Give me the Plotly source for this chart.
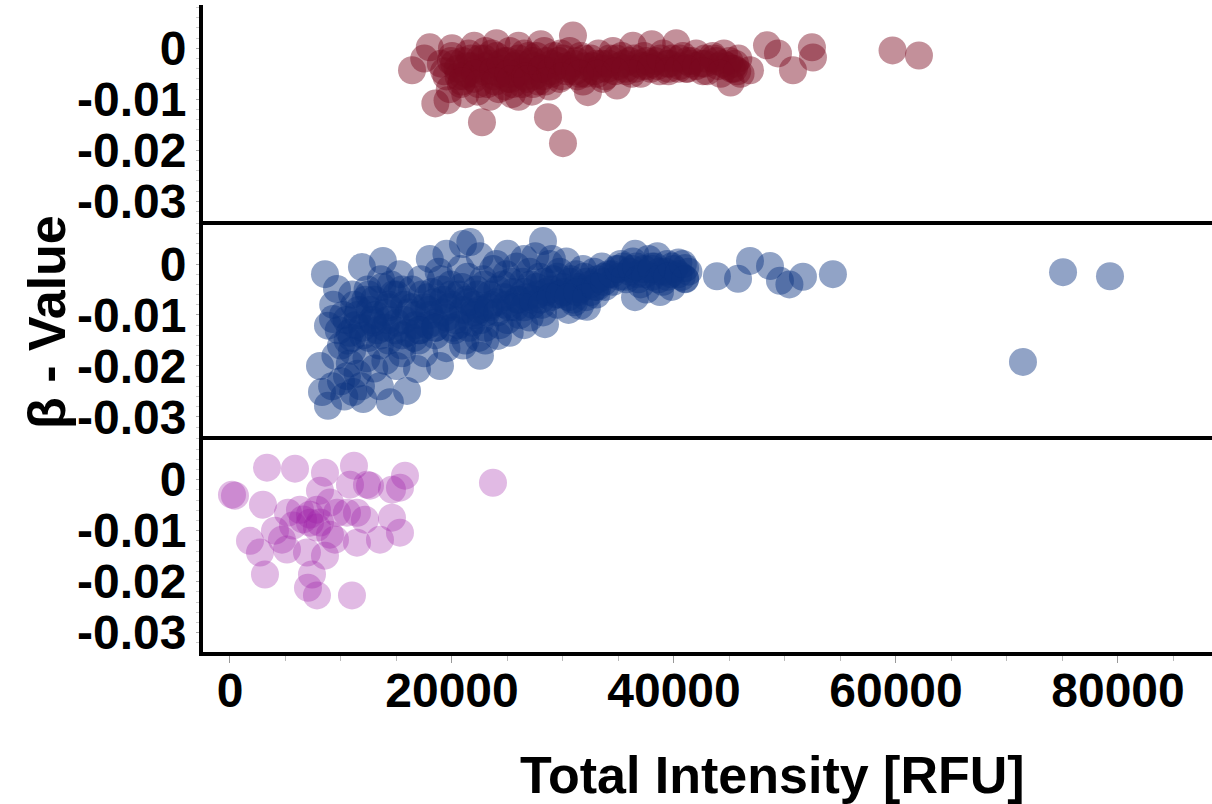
import plotly.graph_objects as go
from plotly.subplots import make_subplots

# ---------------- data ----------------
red_x = [16400, 18000, 18500, 19600, 19000, 19500, 20000, 20500, 20800, 21000,
         21300, 21500, 21800, 22000, 22300, 22500, 22700, 22800, 23000, 23200,
         23500, 23800, 24000, 24200, 24500, 24700, 25000, 25200, 25400, 25600,
         25800, 26000, 26300, 26500, 26700, 27000, 27200, 27400, 27600, 27800,
         28000, 28300, 28500, 28650, 28800, 29000, 29200, 29500, 29700, 30000,
         30000, 30300, 30600, 30900, 31000, 31300, 31600, 32000, 32250, 32500,
         32800, 33200, 33500, 33800, 34200, 34500, 34870, 35000, 35300, 35700,
         36000, 36300, 36700, 37000, 37300, 37700, 38000, 38300, 38700, 39000,
         39400, 39800, 40200, 40500, 40800, 41200, 41600, 42000, 42500, 43000,
         43500, 44000, 44500, 45000, 45100, 45400, 45800, 46000, 46850, 48380,
         49370, 50720, 52430, 52520, 59690, 62070,
         20200, 21000, 21700, 22200, 23000, 23600, 24300, 25000, 25500, 26200,
         26900, 27500, 28200, 29000, 29800, 30500, 31200, 32000, 33000, 34000,
         35500, 36500, 37500, 38500, 39500, 40500, 41500, 42800, 43800, 44800,
         45500, 19800, 21200, 23400, 24800, 26000, 27300, 31800, 33600, 22000,
         24000, 26000, 28000, 20000, 17500,
         19300, 19900, 20600, 21400, 22100, 22900, 23700, 24400, 25100, 25900,
         26600, 27300, 28100, 28900, 29600, 30400, 31100, 31900, 32700, 33400,
         34100, 34800, 35600, 36400, 37200, 38000, 38800, 39600, 40400, 41200,
         42000, 42800, 43600, 44400, 45200,
         20900, 22400, 23900, 25300, 26800, 28400, 29900, 31500, 33100, 34700,
         36200, 37900, 39500, 41100, 42600, 44200, 45700]
red_y = [-0.0043, 0.0002, -0.0108, -0.0102, -0.0030, -0.0055, -0.0015, -0.0040, -0.0070, -0.0025,
         -0.0050, -0.0010, -0.0035, -0.0060, -0.0085, -0.0020, -0.0145, -0.0045, -0.0005, -0.0070,
         -0.0030, -0.0055, -0.0015, -0.0080, -0.0040, -0.0025, -0.0060, -0.0005, -0.0090, -0.0035,
         -0.0050, -0.0020, -0.0070, -0.0010, -0.0045, -0.0030, -0.0085, -0.0055, -0.0015, -0.0065,
         -0.0040, -0.0005, -0.0025, -0.0135, -0.0075, -0.0050, -0.0015, -0.0035, -0.0060, -0.0186,
         -0.0020, -0.0045, -0.0005, 0.0025, -0.0030, -0.0055, -0.0015, -0.0035, -0.0086, -0.0020,
         -0.0045, -0.0010, -0.0030, -0.0055, -0.0020, -0.0005, -0.0073, -0.0035, -0.0015, -0.0045,
         -0.0025, 0.0005, -0.0030, -0.0050, -0.0015, -0.0035, 0.0008, -0.0025, -0.0045, -0.0010,
         -0.0030, -0.0020, 0.0010, -0.0035, -0.0015, -0.0040, -0.0025, -0.0010, -0.0030, -0.0045,
         -0.0015, -0.0035, -0.0010, -0.0025, -0.0067, -0.0040, -0.0020, -0.0050, -0.0043, 0.0006,
         -0.0010, -0.0043, 0.0002, -0.0018, -0.0004, -0.0014,
         -0.0030, -0.0055, -0.0020, -0.0040, -0.0035, -0.0010, -0.0050, -0.0025, -0.0070, -0.0045,
         -0.0015, -0.0035, -0.0055, -0.0030, -0.0010, -0.0040, -0.0025, -0.0050, -0.0030, -0.0040,
         -0.0030, -0.0040, -0.0025, -0.0035, -0.0040, -0.0020, -0.0030, -0.0020, -0.0025, -0.0035,
         -0.0030, -0.0080, -0.0090, -0.0095, -0.0075, -0.0095, -0.0070, -0.0065, -0.0060, 0.0005,
         0.0010, 0.0005, 0.0008, 0.0000, -0.0020,
         -0.0045, -0.0025, -0.0055, -0.0035, -0.0050, -0.0020, -0.0045, -0.0030, -0.0050, -0.0030,
         -0.0055, -0.0025, -0.0040, -0.0045, -0.0025, -0.0035, -0.0045, -0.0020, -0.0035, -0.0040,
         -0.0030, -0.0020, -0.0040, -0.0020, -0.0035, -0.0030, -0.0020, -0.0030, -0.0040, -0.0025,
         -0.0035, -0.0030, -0.0020, -0.0030, -0.0040,
         -0.0065, -0.0070, -0.0065, -0.0060, -0.0060, -0.0065, -0.0055, -0.0050, -0.0050, -0.0045,
         -0.0050, -0.0040, -0.0045, -0.0040, -0.0045, -0.0050, -0.0045]

blue_x = [8560, 13780, 11890, 9640, 9280, 8830, 8110, 8290, 8830, 10540,
          11100, 14410, 15950, 13500, 12000, 16850, 18920, 22520, 24140, 20990,
          21650, 28200, 31530, 32160, 28380, 36490, 38740, 41000, 43870, 45770,
          46850, 48650, 49550, 50400, 51620, 54320, 75050, 79280, 71440,
          9500, 10000, 10800, 11500, 12300, 9200, 10300, 11800, 13000, 14000,
          15000, 15500, 17500, 19500, 21000, 23000, 25200, 26500,
          9300, 9800, 10200, 10600, 11000, 11300, 11600, 12000, 10000, 11000,
          12400, 12800,
          13000, 13300, 13600, 14000, 14300, 14700, 15000, 15300, 15700, 16000,
          16400, 16800, 13500, 15500, 14500, 16600, 12600, 14200,
          17200, 17500, 17800, 18200, 18500, 18800, 19200, 19500, 19900, 20200,
          20600, 21000, 21400, 21800, 22200, 22400, 17000, 18000, 19000, 20000,
          21200, 22000, 20800, 18400,
          22800, 23100, 23400, 23700, 24000, 24300, 24600, 24900, 25200, 25500,
          25800, 26100, 26400, 26700, 27000, 27300, 27600, 27900, 28200, 28500,
          28800, 23000, 25000, 27000, 24000, 26000, 28000, 22600,
          29100, 29400, 29700, 30000, 30300, 30600, 30900, 31200, 31500, 31800,
          32100, 32500, 32800, 33100, 33500, 33800, 34100, 34500, 34800, 35100,
          29500, 30500, 31000, 33000,
          35400, 35700, 36000, 36300, 36700, 37000, 37300, 37700, 38000, 38300,
          38700, 39000, 39400, 39700, 40000, 40400, 40700, 41000, 41300, 37500,
          39800, 36500, 38500,
          10500, 11200, 11900, 12500, 13100, 13700, 14300, 14900, 15500, 16100,
          16700, 17300, 17900, 18500, 19100, 19700, 20300, 20900, 21500, 22100,
          10800, 11500, 12200, 12900, 13600, 14300, 15000, 15700, 16400, 17100,
          17800, 18500, 19200, 19900, 20600, 21300, 22000,
          11000, 12500, 14000, 15500, 17000, 18500, 20000, 21500,
          22300, 22900, 23500, 24100, 24700, 25300, 25900, 26500, 27100, 27700,
          28300, 28900, 29500, 30100, 30700, 31300, 31900, 32500, 33100, 33700,
          22500, 23300, 24100, 24900, 25700, 26500, 27300, 28100, 28900, 29700,
          30500, 31300, 32100, 32900, 33700,
          34400, 35000, 35600, 36200, 36800, 37400, 38000, 38600, 39200, 39800,
          40400, 41000, 35200, 36600, 38000, 39400, 40800,
          18000, 19500, 22500, 25000, 26500, 27500, 29000]
blue_y = [-0.0020, 0.0006, -0.0006, -0.0049, -0.0108, -0.0121, -0.0200, -0.0251, -0.0278, -0.0220,
          -0.0251, -0.0271, -0.0249, -0.0240, -0.0265, -0.0206, -0.0200, -0.0180, -0.0141, 0.0039,
          0.0043, 0.0045, -0.0082, -0.0084, -0.0118, -0.0065, -0.0055, -0.0029, -0.0024, -0.0029,
          0.0006, -0.0004, -0.0033, -0.0040, -0.0025, -0.0020, -0.0016, -0.0024, -0.0192,
          -0.0180, -0.0230, -0.0195, -0.0215, -0.0185, -0.0240, -0.0260, -0.0240, -0.0205, -0.0190,
          -0.0200, -0.0175, -0.0175, -0.0165, -0.0160, -0.0150, -0.0135, -0.0120,
          -0.0080, -0.0130, -0.0100, -0.0150, -0.0060, -0.0120, -0.0090, -0.0140, -0.0160, -0.0170,
          -0.0050, -0.0110,
          -0.0070, -0.0130, -0.0030, -0.0095, -0.0150, -0.0060, -0.0115, -0.0020, -0.0080, -0.0135,
          -0.0050, -0.0100, -0.0160, -0.0160, -0.0040, -0.0145, -0.0090, -0.0110,
          -0.0030, -0.0085, -0.0120, -0.0055, -0.0140, -0.0015, -0.0070, -0.0105, -0.0040, -0.0130,
          -0.0060, -0.0090, -0.0025, -0.0115, -0.0050, -0.0145, -0.0150, -0.0100, -0.0030, -0.0080,
          -0.0150, -0.0080, -0.0010, -0.0075,
          -0.0030, -0.0095, -0.0060, -0.0010, -0.0075, -0.0120, -0.0040, -0.0020, -0.0085, -0.0055,
          -0.0005, -0.0100, -0.0035, -0.0065, -0.0015, -0.0080, -0.0045, -0.0025, -0.0095, -0.0055,
          0.0000, -0.0125, -0.0110, -0.0105, 0.0000, -0.0070, -0.0070, -0.0110,
          -0.0030, -0.0060, -0.0015, -0.0045, 0.0005, -0.0035, -0.0070, -0.0020, -0.0050, -0.0010,
          -0.0035, -0.0055, -0.0015, -0.0030, -0.0005, -0.0045, -0.0020, -0.0035, -0.0010, -0.0025,
          -0.0080, -0.0090, -0.0075, -0.0060,
          -0.0005, -0.0030, -0.0015, 0.0005, -0.0020, -0.0040, -0.0010, 0.0010, -0.0025, -0.0005,
          -0.0015, -0.0035, 0.0000, -0.0020, -0.0010, 0.0003, -0.0025, -0.0008, -0.0015, -0.0050,
          -0.0045, 0.0020, 0.0015,
          -0.0110, -0.0080, -0.0125, -0.0060, -0.0100, -0.0045, -0.0085, -0.0130, -0.0050, -0.0095,
          -0.0120, -0.0060, -0.0090, -0.0115, -0.0050, -0.0085, -0.0110, -0.0045, -0.0075, -0.0100,
          -0.0135, -0.0100, -0.0070, -0.0115, -0.0140, -0.0080, -0.0060, -0.0110, -0.0085, -0.0130,
          -0.0065, -0.0125, -0.0095, -0.0060, -0.0120, -0.0070, -0.0095,
          -0.0145, -0.0145, -0.0125, -0.0140, -0.0130, -0.0125, -0.0125, -0.0125,
          -0.0060, -0.0040, -0.0080, -0.0050, -0.0065, -0.0035, -0.0070, -0.0055, -0.0040, -0.0060,
          -0.0035, -0.0050, -0.0025, -0.0055, -0.0030, -0.0045, -0.0025, -0.0040, -0.0045, -0.0025,
          -0.0090, -0.0085, -0.0095, -0.0080, -0.0085, -0.0085, -0.0070, -0.0080, -0.0065, -0.0060,
          -0.0065, -0.0055, -0.0065, -0.0045, -0.0035,
          -0.0020, -0.0010, -0.0025, -0.0010, -0.0030, -0.0020, -0.0005, -0.0030, -0.0015, -0.0005,
          -0.0020, -0.0030, 0.0000, -0.0005, -0.0010, -0.0025, 0.0000,
          0.0010, 0.0020, 0.0015, 0.0020, 0.0010, 0.0015, 0.0010]

purple_x = [3333, 5856, 8559, 11171, 15766, 450, 180, 2973, 8108, 10811,
            12342, 12613, 14595, 15315, 9009, 5225, 7207, 7838, 10540, 12162,
            14595, 4054, 1802, 4685, 7207, 7838, 9009, 9459, 11441, 13514,
            15315, 2703, 5135, 6937, 8559, 3153, 7387, 7027, 7838, 10991,
            23694, 5676, 6577, 9640, 11441, 6306, 8108]
purple_y = [0.00235, 0.00216, 0.00137, 0.00274, 0.00078, -0.00314, -0.00294, -0.0049, -0.00216, -0.00098,
            -0.00098, -0.00118, -0.00196, -0.00157, -0.0045, -0.00647, -0.00686, -0.00588, -0.00647, -0.00784,
            -0.00745, -0.0100, -0.0120, -0.01176, -0.00843, -0.0094, -0.01078, -0.01176, -0.01235, -0.01176,
            -0.01039, -0.0143, -0.0137, -0.0143, -0.0149, -0.0186, -0.0186, -0.0212, -0.0227, -0.0227,
            -0.0006, -0.0090, -0.0078, -0.0065, -0.0065, -0.0059, -0.0084]

x_tickvals = [0, 20000, 40000, 60000, 80000]
x_ticktext = ["0", "20000", "40000", "60000", "80000"]
y_tickvals = [-0.03, -0.02, -0.01, 0]
y_ticktext = ["-0.03", "-0.02", "-0.01", "0"]

series_colors = ["rgba(122,8,30,0.45)", "rgba(10,50,128,0.45)", "rgba(155,25,165,0.30)"]

# ---------------- figure ----------------
FONT = "Liberation Sans, Arial, Helvetica, sans-serif"
fig = make_subplots(rows=3, cols=1, shared_xaxes=True, vertical_spacing=0)

for i, (xs, ys) in enumerate([(red_x, red_y), (blue_x, blue_y), (purple_x, purple_y)]):
    fig.add_trace(go.Scatter(
        x=xs, y=ys, mode="markers",
        marker=dict(size=28, color=series_colors[i], line=dict(width=0)),
        showlegend=False, hoverinfo="skip"), row=i + 1, col=1)

for r in range(1, 4):
    fig.update_xaxes(
        row=r, col=1, range=[-2430, 88470], showline=True, linecolor="black",
        linewidth=4, showgrid=False, zeroline=False, mirror=False,
        ticks="outside" if r == 3 else "", ticklen=7, tickwidth=1, tickcolor="#999",
        tickvals=x_tickvals, ticktext=x_ticktext, showticklabels=(r == 3),
        ticklabelstandoff=-14,
        tickfont=dict(family=FONT, size=48, color="black", weight="bold"),
        minor=dict(dtick=5000, tick0=0, ticks="outside" if r == 3 else "",
                   ticklen=5, tickcolor="#bbb", showgrid=False),
    )
    fig.update_yaxes(
        row=r, col=1, range=[-0.0338, 0.0085], showline=True, linecolor="black",
        linewidth=4, showgrid=False, zeroline=False, mirror=False,
        ticks="outside", ticklen=3, tickwidth=1, tickcolor="#aaa",
        tickvals=y_tickvals, ticktext=y_ticktext,
        tickfont=dict(family=FONT, size=48, color="black", weight="bold"),
        minor=dict(dtick=0.002, tick0=0, ticks="outside", ticklen=3,
                   tickcolor="#ccc", showgrid=False),
    )

fig.add_annotation(
    text="Total Intensity [RFU]", xref="paper", yref="paper",
    x=0.564, y=-0.190, xanchor="center", yanchor="middle", showarrow=False,
    font=dict(family=FONT, size=52, color="black", weight="bold"))
fig.add_annotation(
    text="β - Value", xref="paper", yref="paper", textangle=-90,
    x=-0.1546, y=0.510, xanchor="center", yanchor="middle", showarrow=False,
    font=dict(family=FONT, size=52, color="black", weight="bold"))

fig.update_layout(
    width=1212, height=804,
    margin=dict(l=203, r=0, t=5, b=152),
    paper_bgcolor="white", plot_bgcolor="white",
    font=dict(family=FONT, color="black"),
    showlegend=False,
)

fig.write_html("out.html")
